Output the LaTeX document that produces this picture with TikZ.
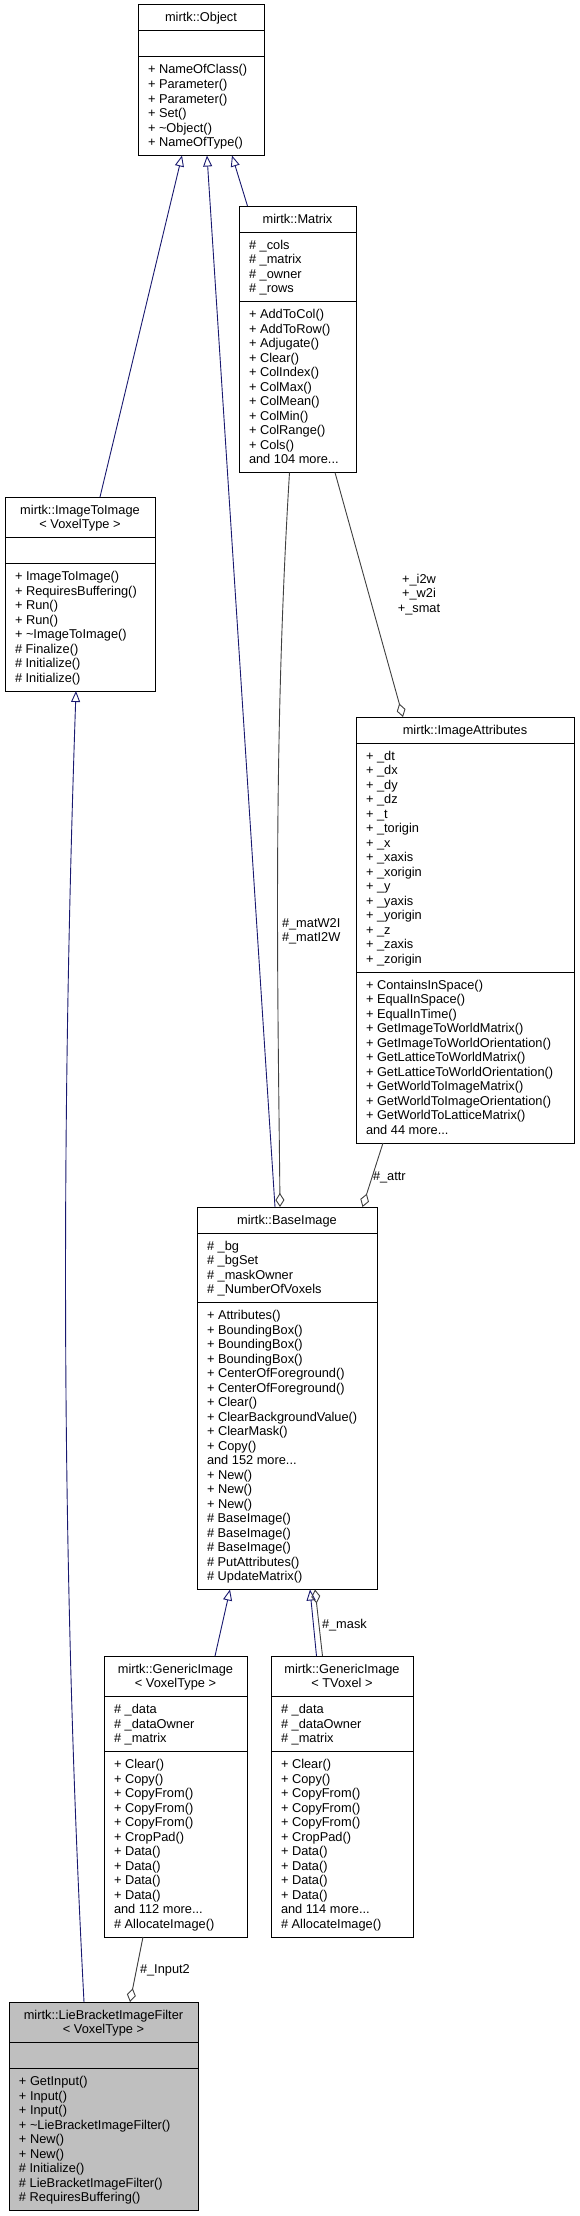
\documentclass[tikz,border=0pt]{standalone}
\usepackage{fontspec}
\setmainfont{Liberation Sans}
\usetikzlibrary{arrows.meta}
\definecolor{inhc}{HTML}{191970}
\definecolor{aggc}{HTML}{404040}
\definecolor{liefill}{HTML}{BFBFBF}
\newcommand\mdots{...}
\tikzset{
  umlframe/.style={draw=black, line width=1pt, inner sep=0pt, outer sep=0pt, anchor=north west},
  txt/.style={inner sep=0pt, outer sep=0pt, font=\fontsize{12.8}{14.5}\selectfont},
  inh/.style={draw=inhc, line width=0.9pt, -{Triangle[open, length=11pt, width=9pt]}},
  agg/.style={draw=aggc, line width=0.9pt, -{Diamond[open, length=14pt, width=9pt]}},
  seprule/.style={draw=black, line width=1pt},
}
% #1 name #2 left #3 right #4 top #5 title lines #6 attr lines #7 method lines #8 fill
\newcommand\umlbox[8]{%
  \pgfmathsetmacro\uA{#4+14.5*#5+11.5}%
  \pgfmathsetmacro\uB{\uA+14.5*max(#6,1)+11.5}%
  \pgfmathsetmacro\uC{\uB+14.5*#7+11.5}%
  \pgfmathsetmacro\uW{#3-#2}%
  \pgfmathsetmacro\uH{\uC-#4}%
  \node[umlframe, fill=#8, minimum width=\uW pt, minimum height=\uH pt] (#1) at (#2,#4) {};
  \draw[seprule] (#2,\uA) -- (#3,\uA);
  \draw[seprule] (#2,\uB) -- (#3,\uB);
}
% #1 prefix #2 x #3 first baseline #4 anchor #5 list
\newcommand\umllines[5]{%
  \foreach \t [count=\i from 0] in {#5} {\node[txt, anchor=#4] (#1\i) at (#2, #3+14.5*\i) {\t};}
}
\begin{document}
\begin{tikzpicture}[x=1pt, y=-1pt]
\fill[white] (0,0) rectangle (580,2216);
\useasboundingbox (0,0) rectangle (580,2216);

% mirtk::Object
\umlbox{obj}{138}{264}{5}{1}{0}{6}{white}
\umllines{objt}{201}{22}{base}{mirtk::Object}
\umllines{objm}{148}{74}{base west}{+ NameOfClass(), + Parameter(), + Parameter(), + Set(), + \textasciitilde Object(), + NameOfType()}

% mirtk::Matrix
\umlbox{mat}{239}{356}{206}{1}{4}{11}{white}
\umllines{matt}{297.5}{223}{base}{mirtk::Matrix}
\umllines{mata}{249}{249}{base west}{\# \_cols, \# \_matrix, \# \_owner, \# \_rows}
\umllines{matm}{249}{318.5}{base west}{+ AddToCol(), + AddToRow(), + Adjugate(), + Clear(), + ColIndex(), + ColMax(), + ColMean(), + ColMin(), + ColRange(), + Cols(), and 104 more\mdots}

% mirtk::ImageToImage
\umlbox{iti}{5}{155}{497}{2}{0}{8}{white}
\umllines{itit}{80}{514}{base}{mirtk::ImageToImage, < VoxelType >}
\umllines{itim}{15}{580.5}{base west}{+ ImageToImage(), + RequiresBuffering(), + Run(), + Run(), + \textasciitilde ImageToImage(), \# Finalize(), \# Initialize(), \# Initialize()}

% mirtk::ImageAttributes
\umlbox{ia}{356}{574}{717}{1}{15}{11}{white}
\umllines{iat}{465}{734}{base}{mirtk::ImageAttributes}
\umllines{iaa}{366}{760}{base west}{+ \_dt, + \_dx, + \_dy, + \_dz, + \_t, + \_torigin, + \_x, + \_xaxis, + \_xorigin, + \_y, + \_yaxis, + \_yorigin, + \_z, + \_zaxis, + \_zorigin}
\umllines{iam}{366}{989}{base west}{+ ContainsInSpace(), + EqualInSpace(), + EqualInTime(), + GetImageToWorldMatrix(), + GetImageToWorldOrientation(), + GetLatticeToWorldMatrix(), + GetLatticeToWorldOrientation(), + GetWorldToImageMatrix(), + GetWorldToImageOrientation(), + GetWorldToLatticeMatrix(), and 44 more\mdots}

% mirtk::BaseImage
\umlbox{bi}{197}{377}{1207}{1}{4}{19}{white}
\umllines{bit}{287}{1224}{base}{mirtk::BaseImage}
\umllines{bia}{207}{1250}{base west}{\# \_bg, \# \_bgSet, \# \_maskOwner, \# \_NumberOfVoxels}
\umllines{bim}{207}{1319.5}{base west}{+ Attributes(), + BoundingBox(), + BoundingBox(), + BoundingBox(), + CenterOfForeground(), + CenterOfForeground(), + Clear(), + ClearBackgroundValue(), + ClearMask(), + Copy(), and 152 more\mdots, + New(), + New(), + New(), \# BaseImage(), \# BaseImage(), \# BaseImage(), \# PutAttributes(), \# UpdateMatrix()}

% mirtk::GenericImage< VoxelType >
\umlbox{gvt}{104}{247}{1656}{2}{3}{12}{white}
\umllines{gvtt}{175.5}{1673}{base}{mirtk::GenericImage, < VoxelType >}
\umllines{gvta}{114}{1713.5}{base west}{\# \_data, \# \_dataOwner, \# \_matrix}
\umllines{gvtm}{114}{1768.5}{base west}{+ Clear(), + Copy(), + CopyFrom(), + CopyFrom(), + CopyFrom(), + CropPad(), + Data(), + Data(), + Data(), + Data(), and 112 more\mdots, \# AllocateImage()}

% mirtk::GenericImage< TVoxel >
\umlbox{gtv}{271}{413}{1656}{2}{3}{12}{white}
\umllines{gtvt}{342}{1673}{base}{mirtk::GenericImage, < TVoxel >}
\umllines{gtva}{281}{1713.5}{base west}{\# \_data, \# \_dataOwner, \# \_matrix}
\umllines{gtvm}{281}{1768.5}{base west}{+ Clear(), + Copy(), + CopyFrom(), + CopyFrom(), + CopyFrom(), + CropPad(), + Data(), + Data(), + Data(), + Data(), and 114 more\mdots, \# AllocateImage()}

% mirtk::LieBracketImageFilter< VoxelType >
\umlbox{lie}{9}{198}{2002}{2}{0}{9}{liefill}
\umllines{liet}{103.5}{2019}{base}{mirtk::LieBracketImageFilter, < VoxelType >}
\umllines{liem}{19}{2085.5}{base west}{+ GetInput(), + Input(), + Input(), + \textasciitilde LieBracketImageFilter(), + New(), + New(), \# Initialize(), \# LieBracketImageFilter(), \# RequiresBuffering()}

% inheritance
\draw[inh] ([xshift=20pt]iti.north) -- ([xshift=-19pt]obj.south);
\draw[inh] ([xshift=-12pt]bi.north) -- ([xshift=6pt]obj.south);
\draw[inh] ([xshift=-50pt]mat.north) -- ([xshift=31pt]obj.south);
\draw[inh] ([xshift=-19.5pt]lie.north) .. controls +(-23,-437) and +(-15,437) .. ([xshift=-4pt]iti.south);
\draw[inh] ([xshift=39.5pt]gvt.north) -- ([xshift=-57pt]bi.south);
\draw[inh] ([xshift=-25.5pt]gtv.north) -- ([xshift=23pt]bi.south);

% aggregation
\draw[agg] ([xshift=-8pt]mat.south) .. controls +(-17,277.5) and +(-2,-207) .. ([xshift=-7pt]bi.north);
\draw[agg] ([xshift=37.5pt]mat.south) -- ([xshift=-62pt]ia.north);
\draw[agg] ([xshift=-82pt]ia.south) -- ([xshift=75.5pt]bi.north);
\draw[agg] ([xshift=-19.5pt]gtv.north) -- ([xshift=28pt]bi.south);
\draw[agg] ([xshift=-32.5pt]gvt.south) -- ([xshift=26.5pt]lie.north);

% edge labels
\umllines{lmat}{282}{927}{base west}{\#\_matW2I, \#\_matI2W}
\umllines{lsm}{419}{583}{base}{+\_i2w, +\_w2i, +\_smat}
\umllines{lattr}{373}{1180}{base west}{\#\_attr}
\umllines{lmask}{322}{1628}{base west}{\#\_mask}
\umllines{linp}{140}{1973}{base west}{\#\_Input2}
\end{tikzpicture}
\end{document}
